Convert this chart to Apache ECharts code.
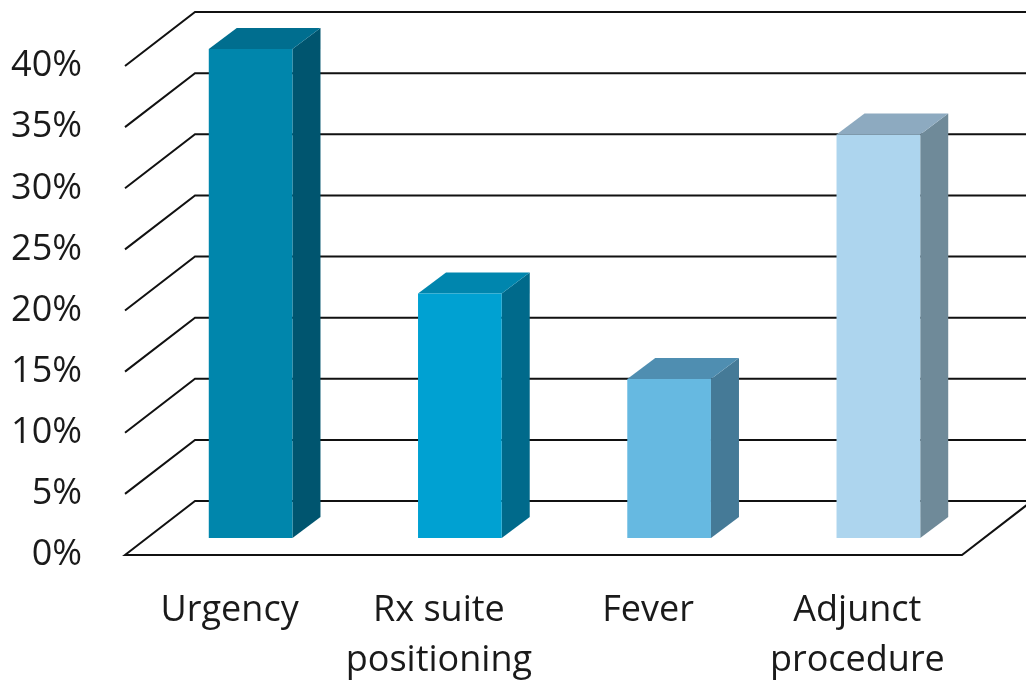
<!DOCTYPE html>
<html>
<head>
<meta charset="utf-8">
<script src="https://cdn.jsdelivr.net/npm/echarts@6/dist/echarts.min.js"></script>
<style>
html,body{margin:0;padding:0;background:#fff;}
#chart{width:1026px;height:686px;}
</style>
</head>
<body>
<div id="chart"></div>
<script>
// ---- data ----
var categories = ['Urgency', 'Rx suite\npositioning', 'Fever', 'Adjunct\nprocedure'];
var values = [40, 20, 13, 33];
var yTicks = [0, 5, 10, 15, 20, 25, 30, 35, 40];

// ---- styles ----
var faceColors = [
  { front: '#0086AC', side: '#00556F', top: '#006E8F' },
  { front: '#00A1D2', side: '#006A8B', top: '#0086AE' },
  { front: '#66B9E1', side: '#457A97', top: '#4F8EB1' },
  { front: '#ADD5EE', side: '#6F8A99', top: '#8DAAC0' }
];
var WALL_DX = 70, WALL_DY = -54;
var BAR_FX = 21, BAR_FY = -17;
var BAR_DX = 28, BAR_DY = -21;
var FONT = '"Open Sans", Lato, sans-serif';

var chart = echarts.init(document.getElementById('chart'));

chart.setOption({
  backgroundColor: '#ffffff',
  animation: false,
  grid: { left: 125, right: 64, top: 66, bottom: 131 },
  xAxis: {
    type: 'category',
    data: categories,
    axisLine: { show: false },
    axisTick: { show: false },
    splitLine: { show: false },
    axisLabel: {
      interval: 0, fontSize: 36, lineHeight: 50, color: '#1a1a1a',
      fontFamily: FONT, margin: 31
    }
  },
  yAxis: {
    type: 'value',
    min: 0, max: 40, interval: 5,
    axisLine: { show: false },
    axisTick: { show: false },
    splitLine: { show: false },
    axisLabel: {
      formatter: '{value}%', fontSize: 36, color: '#1a1a1a',
      fontFamily: FONT, margin: 43, padding: [9, 0, 0, 0]
    }
  },
  series: [
    {
      type: 'custom',
      z: 1,
      data: yTicks.map(function (t) { return [0, t]; }),
      renderItem: function (params, api) {
        var cs = params.coordSys;
        var y = api.coord([0, api.value(1)])[1];
        var x0 = cs.x, x1 = cs.x + cs.width;
        var style = { fill: null, stroke: '#111', lineWidth: 2 };
        if (api.value(1) === 0) {
          return {
            type: 'polygon',
            shape: { points: [[x0, y], [x0 + WALL_DX, y + WALL_DY], [x1 + WALL_DX, y + WALL_DY], [x1, y]] },
            style: style
          };
        }
        return {
          type: 'polyline',
          shape: { points: [[x0, y], [x0 + WALL_DX, y + WALL_DY], [x1 + WALL_DX, y + WALL_DY]] },
          style: style
        };
      }
    },
    {
      type: 'custom',
      z: 2,
      data: values.map(function (v, i) { return [i, v]; }),
      renderItem: function (params, api) {
        var i = api.value(0);
        var top = api.coord([i, api.value(1)]);
        var base = api.coord([i, 0]);
        var w = api.size([1, 0])[0] * 0.4;
        var L = top[0] - w / 2 + BAR_FX, R = top[0] + w / 2 + BAR_FX;
        var T = top[1] + BAR_FY, B = base[1] + BAR_FY;
        var c = faceColors[params.dataIndex];
        return {
          type: 'group',
          children: [
            { type: 'polygon', shape: { points: [[R, T], [R + BAR_DX, T + BAR_DY], [R + BAR_DX, B + BAR_DY], [R, B]] }, style: { fill: c.side } },
            { type: 'polygon', shape: { points: [[L, T], [L + BAR_DX, T + BAR_DY], [R + BAR_DX, T + BAR_DY], [R, T]] }, style: { fill: c.top } },
            { type: 'rect', shape: { x: L, y: T, width: R - L, height: B - T }, style: { fill: c.front } }
          ]
        };
      }
    }
  ]
});
</script>
</body>
</html>
